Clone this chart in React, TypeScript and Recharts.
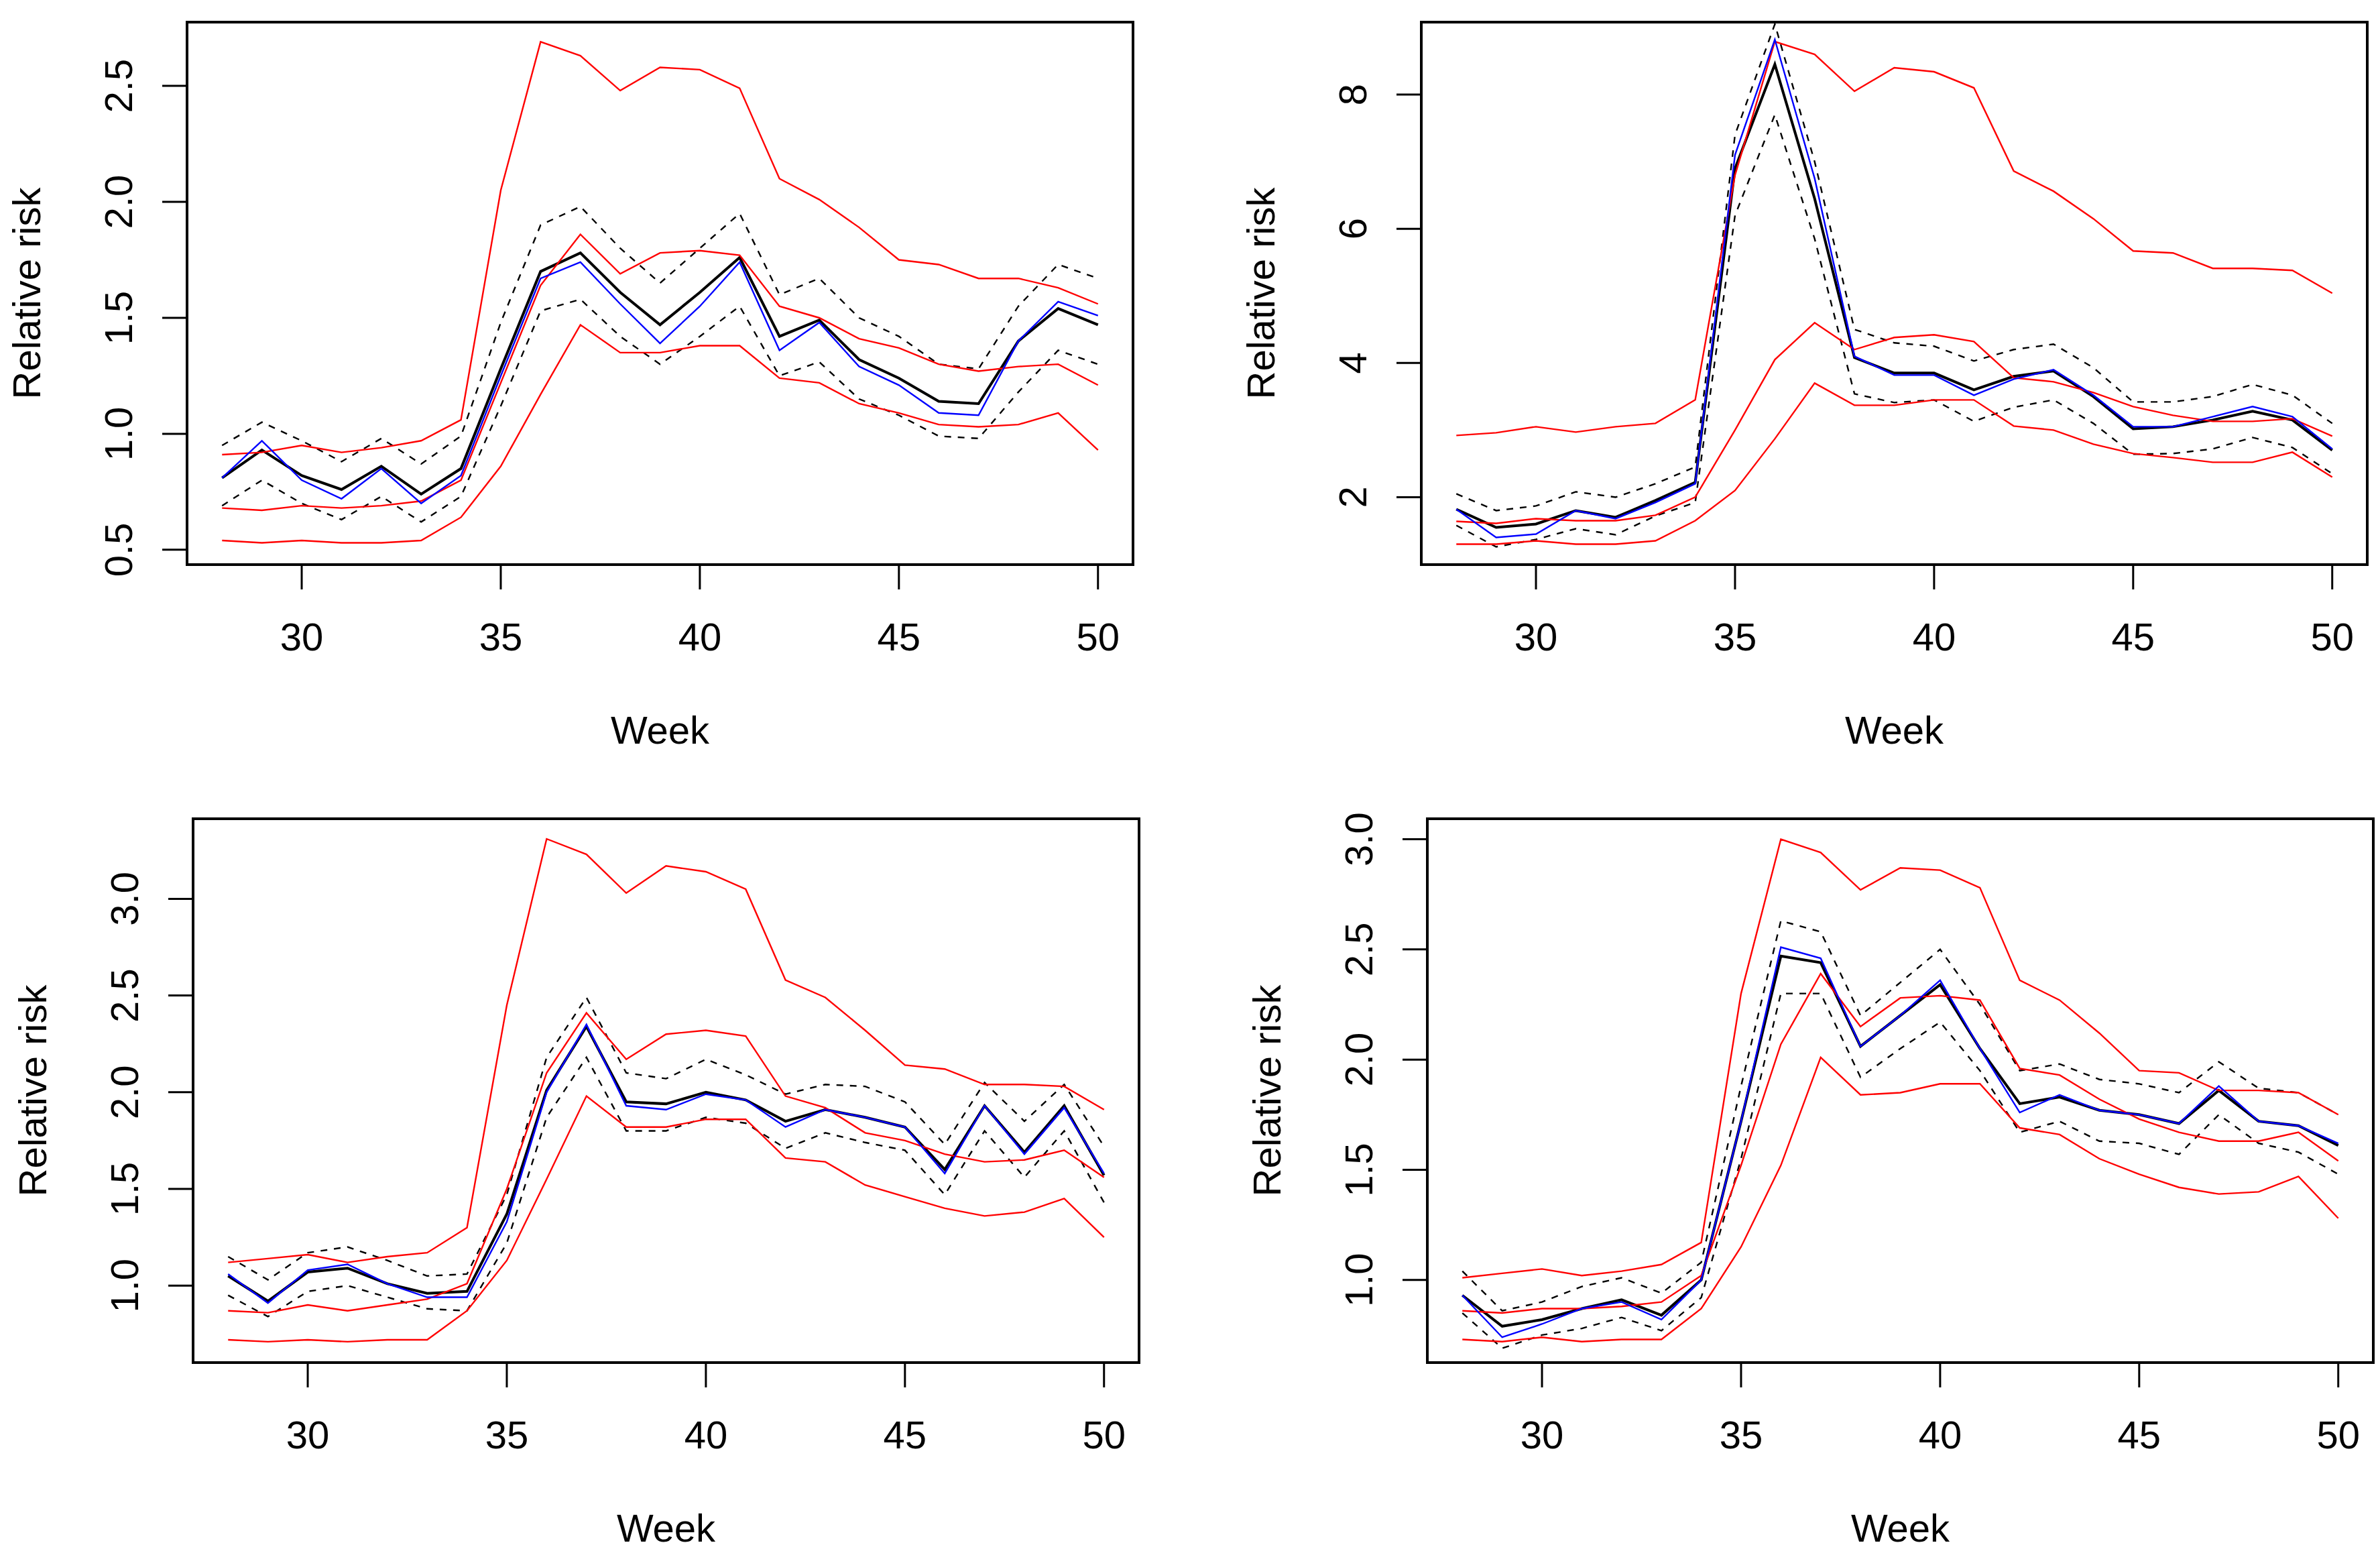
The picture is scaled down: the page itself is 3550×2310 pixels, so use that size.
import React from "react";
import {
  LineChart,
  Line,
  XAxis,
  YAxis,
  ReferenceArea,
} from "recharts";

const weeks = [28, 29, 30, 31, 32, 33, 34, 35, 36, 37, 38, 39, 40, 41, 42, 43, 44, 45, 46, 47, 48, 49, 50];
const weekTicks = [30, 35, 40, 45, 50];

// panel 1 (top left)
const p1RedHi = [0.91, 0.92, 0.95, 0.92, 0.94, 0.97, 1.06, 2.05, 2.69, 2.63, 2.48, 2.58, 2.57, 2.49, 2.1, 2.01, 1.89, 1.75, 1.73, 1.67, 1.67, 1.63, 1.56];
const p1RedMid = [0.68, 0.67, 0.69, 0.68, 0.69, 0.71, 0.8, 1.22, 1.64, 1.86, 1.69, 1.78, 1.79, 1.77, 1.55, 1.5, 1.41, 1.37, 1.3, 1.27, 1.29, 1.3, 1.21];
const p1RedLo = [0.54, 0.53, 0.54, 0.53, 0.53, 0.54, 0.64, 0.86, 1.17, 1.47, 1.35, 1.35, 1.38, 1.38, 1.24, 1.22, 1.13, 1.09, 1.04, 1.03, 1.04, 1.09, 0.93];
const p1Black = [0.81, 0.93, 0.82, 0.76, 0.86, 0.74, 0.85, 1.28, 1.7, 1.78, 1.61, 1.47, 1.61, 1.76, 1.42, 1.49, 1.32, 1.24, 1.14, 1.13, 1.4, 1.54, 1.47];
const p1Blue = [0.81, 0.97, 0.8, 0.72, 0.85, 0.7, 0.82, 1.25, 1.67, 1.74, 1.56, 1.39, 1.55, 1.74, 1.36, 1.48, 1.29, 1.21, 1.09, 1.08, 1.4, 1.57, 1.51];
const p1DashHi = [0.95, 1.05, 0.97, 0.88, 0.98, 0.87, 0.99, 1.48, 1.9, 1.98, 1.8, 1.65, 1.8, 1.95, 1.6, 1.67, 1.5, 1.42, 1.3, 1.28, 1.55, 1.73, 1.67];
const p1DashLo = [0.69, 0.8, 0.7, 0.63, 0.73, 0.62, 0.73, 1.12, 1.53, 1.58, 1.42, 1.3, 1.42, 1.55, 1.25, 1.31, 1.15, 1.08, 0.99, 0.98, 1.18, 1.36, 1.3];
const p1Ticks = [0.5, 1.0, 1.5, 2.0, 2.5];

// panel 2 (top right)
const p2RedHi = [2.92, 2.96, 3.05, 2.97, 3.05, 3.1, 3.45, 6.8, 8.79, 8.6, 8.05, 8.4, 8.34, 8.1, 6.86, 6.56, 6.15, 5.67, 5.64, 5.41, 5.41, 5.38, 5.04];
const p2RedMid = [1.64, 1.61, 1.68, 1.65, 1.65, 1.73, 2.0, 3.0, 4.05, 4.6, 4.2, 4.38, 4.42, 4.32, 3.78, 3.72, 3.56, 3.35, 3.22, 3.13, 3.13, 3.17, 2.91];
const p2RedLo = [1.3, 1.3, 1.35, 1.3, 1.3, 1.35, 1.65, 2.1, 2.87, 3.7, 3.37, 3.37, 3.45, 3.45, 3.06, 3.0, 2.79, 2.65, 2.59, 2.52, 2.52, 2.67, 2.3];
const p2Black = [1.82, 1.55, 1.6, 1.8, 1.7, 1.95, 2.22, 6.9, 8.45, 6.45, 4.08, 3.85, 3.85, 3.6, 3.8, 3.88, 3.5, 3.02, 3.05, 3.15, 3.28, 3.15, 2.7];
const p2Blue = [1.82, 1.4, 1.45, 1.8, 1.68, 1.92, 2.2, 7.1, 8.82, 6.75, 4.1, 3.82, 3.82, 3.52, 3.76, 3.9, 3.52, 3.05, 3.05, 3.2, 3.35, 3.2, 2.72];
const p2DashHi = [2.05, 1.8, 1.87, 2.08, 2.0, 2.2, 2.45, 7.4, 9.05, 7.0, 4.5, 4.3, 4.25, 4.03, 4.2, 4.28, 3.93, 3.42, 3.42, 3.5, 3.68, 3.52, 3.1];
const p2DashLo = [1.58, 1.26, 1.37, 1.53, 1.44, 1.72, 1.92, 6.2, 7.7, 5.85, 3.54, 3.41, 3.45, 3.13, 3.34, 3.45, 3.1, 2.64, 2.65, 2.72, 2.89, 2.74, 2.35];
const p2Ticks = [2, 4, 6, 8];

// panel 3 (bottom left)
const p3RedHi = [1.12, 1.14, 1.16, 1.12, 1.15, 1.17, 1.3, 2.45, 3.31, 3.23, 3.03, 3.17, 3.14, 3.05, 2.58, 2.49, 2.32, 2.14, 2.12, 2.04, 2.04, 2.03, 1.91];
const p3RedMid = [0.87, 0.86, 0.9, 0.87, 0.9, 0.93, 1.01, 1.5, 2.1, 2.41, 2.17, 2.3, 2.32, 2.29, 1.98, 1.92, 1.79, 1.75, 1.68, 1.64, 1.65, 1.7, 1.56];
const p3RedLo = [0.72, 0.71, 0.72, 0.71, 0.72, 0.72, 0.87, 1.13, 1.55, 1.98, 1.82, 1.82, 1.86, 1.86, 1.66, 1.64, 1.52, 1.46, 1.4, 1.36, 1.38, 1.45, 1.25];
const p3Black = [1.05, 0.92, 1.07, 1.09, 1.01, 0.96, 0.97, 1.37, 2.01, 2.34, 1.95, 1.94, 2.0, 1.96, 1.85, 1.91, 1.87, 1.82, 1.6, 1.93, 1.69, 1.93, 1.57];
const p3Blue = [1.06, 0.91, 1.08, 1.11, 1.01, 0.94, 0.94, 1.33, 2.0, 2.35, 1.93, 1.91, 1.99, 1.96, 1.82, 1.91, 1.87, 1.82, 1.58, 1.93, 1.68, 1.92, 1.58];
const p3DashHi = [1.15, 1.03, 1.17, 1.2, 1.13, 1.05, 1.06, 1.47, 2.18, 2.49, 2.1, 2.07, 2.17, 2.09, 1.99, 2.04, 2.03, 1.95, 1.73, 2.05, 1.85, 2.04, 1.72];
const p3DashLo = [0.95, 0.84, 0.97, 1.0, 0.94, 0.88, 0.87, 1.22, 1.87, 2.18, 1.8, 1.8, 1.87, 1.84, 1.71, 1.79, 1.74, 1.7, 1.47, 1.8, 1.56, 1.8, 1.43];
const p3Ticks = [1.0, 1.5, 2.0, 2.5, 3.0];

// panel 4 (bottom right)
const p4RedHi = [1.01, 1.03, 1.05, 1.02, 1.04, 1.07, 1.17, 2.3, 3.0, 2.94, 2.77, 2.87, 2.86, 2.78, 2.36, 2.27, 2.12, 1.95, 1.94, 1.86, 1.86, 1.85, 1.75];
const p4RedMid = [0.86, 0.85, 0.87, 0.87, 0.88, 0.9, 1.02, 1.52, 2.07, 2.39, 2.15, 2.28, 2.29, 2.27, 1.96, 1.93, 1.82, 1.73, 1.67, 1.63, 1.63, 1.67, 1.54];
const p4RedLo = [0.73, 0.72, 0.74, 0.72, 0.73, 0.73, 0.87, 1.15, 1.52, 2.01, 1.84, 1.85, 1.89, 1.89, 1.69, 1.66, 1.55, 1.48, 1.42, 1.39, 1.4, 1.47, 1.28];
const p4Black = [0.93, 0.79, 0.82, 0.87, 0.91, 0.84, 1.0, 1.72, 2.47, 2.44, 2.06, 2.2, 2.34, 2.05, 1.8, 1.83, 1.77, 1.75, 1.71, 1.86, 1.72, 1.7, 1.61];
const p4Blue = [0.93, 0.74, 0.8, 0.87, 0.9, 0.82, 1.0, 1.72, 2.51, 2.46, 2.06, 2.2, 2.36, 2.05, 1.76, 1.84, 1.77, 1.75, 1.71, 1.88, 1.72, 1.7, 1.62];
const p4DashHi = [1.04, 0.86, 0.9, 0.97, 1.01, 0.94, 1.08, 1.88, 2.63, 2.58, 2.2, 2.35, 2.5, 2.25, 1.95, 1.98, 1.91, 1.89, 1.85, 1.99, 1.87, 1.85, 1.75];
const p4DashLo = [0.85, 0.69, 0.75, 0.78, 0.83, 0.77, 0.92, 1.55, 2.3, 2.3, 1.92, 2.05, 2.17, 1.95, 1.67, 1.72, 1.63, 1.62, 1.57, 1.75, 1.62, 1.58, 1.48];
const p4Ticks = [1.0, 1.5, 2.0, 2.5, 3.0];

const FONT = '"Liberation Sans", Arial, sans-serif';
const FS = 58;
const YAXIS_W = 280;
const XAXIS_H = 300;
const M_TOP = 10;
const M_RIGHT = 12;
const X_DOMAIN: [number, number] = [27.12, 50.88];

function rows(
  black: number[], blue: number[], dashHi: number[], dashLo: number[],
  redHi: number[], redMid: number[], redLo: number[]
) {
  return weeks.map((week, i) => ({
    week,
    black: black[i],
    blue: blue[i],
    dashHi: dashHi[i],
    dashLo: dashLo[i],
    redHi: redHi[i],
    redMid: redMid[i],
    redLo: redLo[i],
  }));
}

const panels = [
  {
    key: "p1",
    box: { left: 279, top: 33, right: 1690, bottom: 842 },
    yDomain: [0.436, 2.775] as [number, number],
    yTicks: p1Ticks,
    fmt: (v: number) => v.toFixed(1),
    data: rows(p1Black, p1Blue, p1DashHi, p1DashLo, p1RedHi, p1RedMid, p1RedLo),
  },
  {
    key: "p2",
    box: { left: 2120, top: 33, right: 3531, bottom: 842 },
    yDomain: [0.995, 9.08] as [number, number],
    yTicks: p2Ticks,
    fmt: (v: number) => String(v),
    data: rows(p2Black, p2Blue, p2DashHi, p2DashLo, p2RedHi, p2RedMid, p2RedLo),
  },
  {
    key: "p3",
    box: { left: 288, top: 1221, right: 1699, bottom: 2032 },
    yDomain: [0.602, 3.414] as [number, number],
    yTicks: p3Ticks,
    fmt: (v: number) => v.toFixed(1),
    data: rows(p3Black, p3Blue, p3DashHi, p3DashLo, p3RedHi, p3RedMid, p3RedLo),
  },
  {
    key: "p4",
    box: { left: 2129, top: 1221, right: 3540, bottom: 2032 },
    yDomain: [0.625, 3.093] as [number, number],
    yTicks: p4Ticks,
    fmt: (v: number) => v.toFixed(1),
    data: rows(p4Black, p4Blue, p4DashHi, p4DashLo, p4RedHi, p4RedMid, p4RedLo),
  },
];

// axis title drawn at fixed spot, ignores whatever props recharts clones in
function Title({ tx, ty, rot, text }: { tx: number; ty: number; rot: boolean; text: string }) {
  return (
    <text
      x={tx}
      y={ty}
      transform={rot ? `rotate(-90, ${tx}, ${ty})` : undefined}
      textAnchor="middle"
      dominantBaseline="central"
      fontSize={FS}
      fontFamily={FONT}
      fill="#000"
    >
      {text}
    </text>
  );
}

function Panel({ p }: { p: (typeof panels)[number] }) {
  const plotW = p.box.right - p.box.left;
  const plotH = p.box.bottom - p.box.top;
  const width = YAXIS_W + plotW + M_RIGHT;
  const height = M_TOP + plotH + XAXIS_H;
  const plotBottom = M_TOP + plotH;

  const YTick = (props: any) => {
    const x = YAXIS_W - 102;
    const y = props.y;
    return (
      <text
        x={x}
        y={y}
        transform={`rotate(-90, ${x}, ${y})`}
        textAnchor="middle"
        dominantBaseline="central"
        fontSize={FS}
        fontFamily={FONT}
        fill="#000"
      >
        {p.fmt(props.payload.value)}
      </text>
    );
  };

  const XTick = (props: any) => (
    <text
      x={props.x}
      y={plotBottom + 107}
      textAnchor="middle"
      dominantBaseline="central"
      fontSize={FS}
      fontFamily={FONT}
      fill="#000"
    >
      {props.payload.value}
    </text>
  );

  const XTitle = () => (
    <Title tx={YAXIS_W + plotW / 2} ty={plotBottom + 246} rot={false} text="Week" />
  );
  const YTitle = () => (
    <Title tx={YAXIS_W - 240} ty={M_TOP + plotH / 2} rot={true} text="Relative risk" />
  );

  const thin = 2.4;

  return (
    <div
      style={{
        position: "absolute",
        left: p.box.left - YAXIS_W,
        top: p.box.top - M_TOP,
        width,
        height,
      }}
    >
      <LineChart
        width={width}
        height={height}
        data={p.data}
        margin={{ top: M_TOP, right: M_RIGHT, bottom: 0, left: 0 }}
      >
        <XAxis
          dataKey="week"
          type="number"
          domain={X_DOMAIN}
          ticks={weekTicks}
          allowDataOverflow
          height={XAXIS_H}
          axisLine={false}
          tickSize={37}
          tickLine={{ stroke: "#000", strokeWidth: 3 }}
          tick={XTick}
          label={<XTitle />}
        />
        <YAxis
          type="number"
          domain={p.yDomain}
          ticks={p.yTicks}
          allowDataOverflow
          width={YAXIS_W}
          axisLine={false}
          tickSize={37}
          tickLine={{ stroke: "#000", strokeWidth: 3 }}
          tick={YTick}
          label={<YTitle />}
        />
        <ReferenceArea
          x1={X_DOMAIN[0]}
          x2={X_DOMAIN[1]}
          y1={p.yDomain[0]}
          y2={p.yDomain[1]}
          fill="none"
          fillOpacity={0}
          stroke="#000"
          strokeWidth={4}
          ifOverflow="visible"
        />
        <Line dataKey="dashHi" type="linear" stroke="#000" strokeWidth={thin} strokeDasharray="10 10" dot={false} isAnimationActive={false} />
        <Line dataKey="dashLo" type="linear" stroke="#000" strokeWidth={thin} strokeDasharray="10 10" dot={false} isAnimationActive={false} />
        <Line dataKey="black" type="linear" stroke="#000" strokeWidth={4} dot={false} isAnimationActive={false} />
        <Line dataKey="redHi" type="linear" stroke="#ff0000" strokeWidth={thin} dot={false} isAnimationActive={false} />
        <Line dataKey="redMid" type="linear" stroke="#ff0000" strokeWidth={thin} dot={false} isAnimationActive={false} />
        <Line dataKey="redLo" type="linear" stroke="#ff0000" strokeWidth={thin} dot={false} isAnimationActive={false} />
        <Line dataKey="blue" type="linear" stroke="#0000ff" strokeWidth={thin} dot={false} isAnimationActive={false} />
      </LineChart>
    </div>
  );
}

export default function App() {
  return (
    <div
      style={{
        position: "absolute",
        left: 0,
        top: 0,
        width: 3550,
        height: 2310,
        background: "#fff",
        overflow: "hidden",
      }}
    >
      {panels.map((p) => (
        <Panel key={p.key} p={p} />
      ))}
    </div>
  );
}
